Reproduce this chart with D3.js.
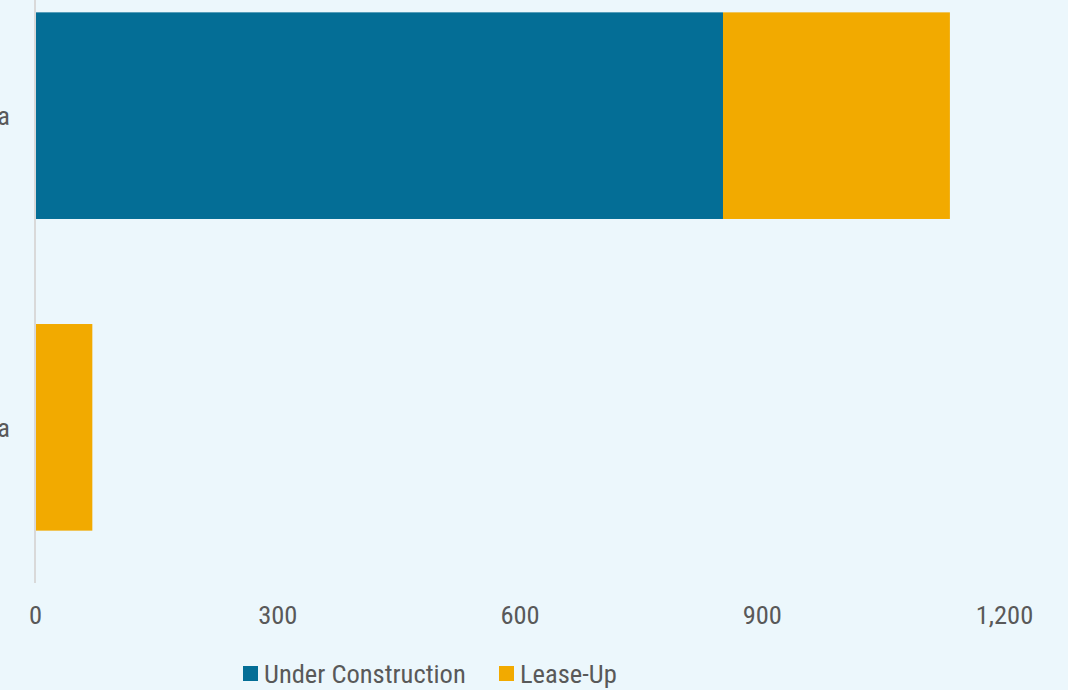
<!DOCTYPE html>
<html>
<head>
<meta charset="utf-8">
<script src="https://cdn.jsdelivr.net/npm/d3@7"></script>
<style>
  body { margin: 0; background: #ecf7fc; }
  svg { display: block; }
  text { font-family: "Roboto Condensed", "Liberation Sans Narrow", "DejaVu Sans Condensed", Roboto, sans-serif; fill: #595959; }
</style>
</head>
<body>
<svg id="chart" width="1068" height="690"></svg>
<script>
var categories = ["Atlanta", "Tampa"];
var underConstruction = [852, 0];
var leaseUp = [281, 71];
var seriesNames = ["Under Construction", "Lease-Up"];
var seriesColors = ["#046e96", "#f2aa00"];
var xTicks = [0, 300, 600, 900, 1200];

var svg = d3.select("#chart");
svg.append("rect").attr("width", 1068).attr("height", 690).attr("fill", "#ecf7fc");

var x = d3.scaleLinear().domain([0, 1200]).range([35, 1004]);
var y = d3.scaleBand().domain(categories).range([-40, 583])
    .paddingInner(0.337).paddingOuter(0.168);

var rows = categories.map(function (c, i) {
    return { cat: c, "Under Construction": underConstruction[i], "Lease-Up": leaseUp[i] };
});
var stack = d3.stack().keys(seriesNames)(rows);

var g = svg.append("g");
stack.forEach(function (s, si) {
    g.selectAll(null).data(s).enter().append("rect")
        .attr("x", function (d) { return x(d[0]); })
        .attr("width", function (d) { return x(d[1]) - x(d[0]); })
        .attr("y", function (d) { return y(d.data.cat); })
        .attr("height", y.bandwidth())
        .attr("fill", seriesColors[si]);
});

// vertical axis line
svg.append("line")
    .attr("x1", x(0)).attr("x2", x(0))
    .attr("y1", -40).attr("y2", 583)
    .attr("stroke", "#d9d9d9").attr("stroke-width", 2);

// category labels (cut off at the left edge, as in the original)
svg.selectAll(".cat").data(categories).enter().append("text")
    .attr("class", "cat")
    .attr("x", 10)
    .attr("y", function (d) { return y(d) + y.bandwidth() / 2; })
    .attr("dy", "0.35em")
    .attr("text-anchor", "end")
    .style("font-size", "26.5px")
    .text(function (d) { return d; });

// x axis labels
var xAxis = d3.axisBottom(x).tickValues(xTicks).tickSize(0).tickPadding(0)
    .tickFormat(d3.format(","));
var ax = svg.append("g").attr("transform", "translate(0,605)").call(xAxis);
ax.select(".domain").remove();
ax.selectAll("text").style("font-size", "26.5px").attr("dy", "0.71em")
    .attr("fill", "#595959");

// legend
var legendX = [243, 499];
var lg = svg.selectAll(".lg").data(seriesNames).enter().append("g")
    .attr("transform", function (d, i) { return "translate(" + legendX[i] + ",666)"; });
lg.append("rect").attr("width", 15).attr("height", 15)
    .attr("fill", function (d, i) { return seriesColors[i]; });
lg.append("text").attr("x", 21).attr("y", 8).attr("dy", "0.35em")
    .style("font-size", "26.5px")
    .text(function (d) { return d; });
</script>
</body>
</html>
